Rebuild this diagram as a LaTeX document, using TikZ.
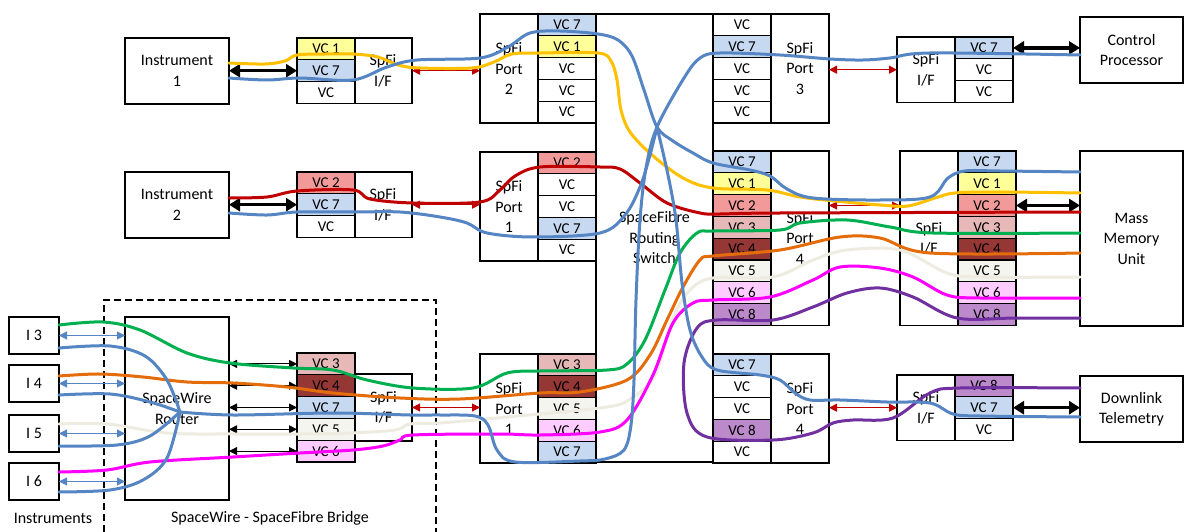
\documentclass[tikz,border=0pt]{standalone}
\usepackage{fontspec}
\setmainfont{Carlito}
\usetikzlibrary{arrows.meta}

%% colori delle celle VC
\definecolor{vcone}{HTML}{FFFF99}
\definecolor{vctwo}{HTML}{F29A9A}
\definecolor{vcthree}{HTML}{E6B9B8}
\definecolor{vcfour}{HTML}{953735}
\definecolor{vcfive}{HTML}{F5F5F0}
\definecolor{vcsix}{HTML}{FFCCFF}
\definecolor{vcseven}{HTML}{C6D9F1}
\definecolor{vceight}{HTML}{BC8ACA}
%% colori dei canali
\definecolor{cgiallo}{HTML}{FFC000}
\definecolor{cblu}{HTML}{5585C3}
\definecolor{crosso}{HTML}{C00000}
\definecolor{cverde}{HTML}{00B050}
\definecolor{carancio}{HTML}{E46C0A}
\definecolor{cbianco}{HTML}{EEECE1}
\definecolor{cmagenta}{HTML}{FF00FF}
\definecolor{cviola}{HTML}{7030A0}

\begin{document}
\begin{tikzpicture}[
	x=1pt, y=-1pt, line width=1.2pt,
	blocco/.style={draw=black, fill=white, line width=1.2pt, anchor=north west,
		inner sep=0pt, outer sep=0pt, align=center,
		font=\fontsize{16}{20.5}\selectfont},
	vc/.style={draw=black, line width=1.2pt, anchor=north west,
		inner sep=0pt, outer sep=0pt, minimum width=58pt, minimum height=\hc pt,
		font=\fontsize{15}{17}\selectfont},
	canale/.style={line width=3pt, line cap=round, line join=round,
		smooth, tension=0.55},
	largo/.style={{Triangle[length=11pt,width=13pt]}-{Triangle[length=11pt,width=13pt]},
		line width=3.5pt, black},
	sottile/.style={{Triangle[length=8pt,width=8pt]}-{Triangle[length=8pt,width=8pt]},
		line width=1pt}]

	\useasboundingbox (0,0) rectangle (1184,532);
	\def\hc{21.8}

	%% ponte SpaceWire - SpaceFibre (tratteggiato, aperto in basso)
	\draw[line width=1.2pt, dash pattern=on 7pt off 4pt]
		(104,532) -- (104,300) -- (436,300) -- (436,532);
	\node[font=\fontsize{16}{20}\selectfont] (lbins) at (53,518) {Instruments};
	\node[font=\fontsize{16}{20}\selectfont] (lbbr) at (270,518) {SpaceWire - SpaceFibre Bridge};

	%% strumenti e blocchi terminali
	\node[blocco, minimum width=104pt, minimum height=66pt] (ins1) at (125,38) {Instrument\\1};
	\node[blocco, minimum width=104pt, minimum height=66pt] (ins2) at (125,172) {Instrument\\2};
	\node[blocco, minimum width=103pt, minimum height=66pt] (cp) at (1080,17) {Control\\Processor};
	\node[blocco, minimum width=103pt, minimum height=175pt] (mmu) at (1080,151) {Mass\\Memory\\Unit};
	\node[blocco, minimum width=103pt, minimum height=66pt] (dl) at (1080,376) {Downlink\\Telemetry};
	\node[blocco, minimum width=50pt, minimum height=37pt] (i3) at (9,317) {I 3};
	\node[blocco, minimum width=50pt, minimum height=37pt] (i4) at (9,365) {I 4};
	\node[blocco, minimum width=50pt, minimum height=37pt] (i5) at (9,415) {I 5};
	\node[blocco, minimum width=50pt, minimum height=37pt] (i6) at (9,463) {I 6};
	\node[blocco, minimum width=104pt, minimum height=183pt] (swr) at (125,317) {SpaceWire\\Router};

	%% interfacce SpFi
	\node[blocco, minimum width=58pt, minimum height=65.4pt] (ifa) at (354,38) {SpFi\\I/F};
	\node[blocco, minimum width=58pt, minimum height=65.4pt] (ifb) at (354,172) {SpFi\\I/F};
	\node[blocco, minimum width=58pt, minimum height=65.4pt] (ifc) at (897,37) {SpFi\\I/F};
	\node[blocco, minimum width=58pt, minimum height=174.4pt] (ifd) at (900,151) {SpFi\\I/F};
	\node[blocco, minimum width=58pt, minimum height=65.4pt] (ife) at (897,375) {SpFi\\I/F};
	\node[blocco, minimum width=57pt, minimum height=67pt] (fbr) at (355,374) {SpFi\\I/F};

	%% switch e porte
	\node[blocco, minimum width=117pt, minimum height=448pt] (sw) at (596,14) {SpaceFibre\\Routing\\Switch};
	\node[blocco, minimum width=58pt, minimum height=109pt] (prt2) at (480,14) {SpFi\\Port\\2};
	\node[blocco, minimum width=58pt, minimum height=109pt] (prt1) at (480,152) {SpFi\\Port\\1};
	\node[blocco, minimum width=58pt, minimum height=109pt] (prt1b) at (480,354) {SpFi\\Port\\1};
	\node[blocco, minimum width=58pt, minimum height=109pt] (prt3) at (771,14) {SpFi\\Port\\3};
	\node[blocco, minimum width=58pt, minimum height=174.4pt] (prt4) at (771,151) {SpFi\\Port\\4};
	\node[blocco, minimum width=58pt, minimum height=109pt] (prt4b) at (771,354) {SpFi\\Port\\4};

	%% pile di canali virtuali
	\foreach \lab/\col [count=\i] in {VC 1/vcone,VC 7/vcseven,VC/white}
		\node[vc, fill=\col] (fa\i) at (297,{38+(\i-1)*\hc}) {\lab};
	\foreach \lab/\col [count=\i] in {VC 2/vctwo,VC 7/vcseven,VC/white}
		\node[vc, fill=\col] (fb\i) at (297,{172+(\i-1)*\hc}) {\lab};
	\foreach \lab/\col [count=\i] in {VC 3/vcthree,VC 4/vcfour,VC 7/vcseven,VC 5/vcfive,VC 6/vcsix}
		\node[vc, fill=\col] (fg\i) at (297,{353+(\i-1)*\hc}) {\lab};
	\foreach \lab/\col [count=\i] in {VC 7/vcseven,VC 1/vcone,VC/white,VC/white,VC/white}
		\node[vc, fill=\col] (pb\i) at (538,{14+(\i-1)*\hc}) {\lab};
	\foreach \lab/\col [count=\i] in {VC 2/vctwo,VC/white,VC/white,VC 7/vcseven,VC/white}
		\node[vc, fill=\col] (pa\i) at (538,{152+(\i-1)*\hc}) {\lab};
	\foreach \lab/\col [count=\i] in {VC 3/vcthree,VC 4/vcfour,VC 5/vcfive,VC 6/vcsix,VC 7/vcseven}
		\node[vc, fill=\col] (pe\i) at (538,{354+(\i-1)*\hc}) {\lab};
	\foreach \lab/\col [count=\i] in {VC/white,VC 7/vcseven,VC/white,VC/white,VC/white}
		\node[vc, fill=\col] (pc\i) at (713,{14+(\i-1)*\hc}) {\lab};
	\foreach \lab/\col [count=\i] in {VC 7/vcseven,VC 1/vcone,VC 2/vctwo,VC 3/vcthree,VC 4/vcfour,VC 5/vcfive,VC 6/vcsix,VC 8/vceight}
		\node[vc, fill=\col] (pd\i) at (713,{151+(\i-1)*\hc}) {\lab};
	\foreach \lab/\col [count=\i] in {VC 7/vcseven,VC/white,VC/white,VC 8/vceight,VC/white}
		\node[vc, fill=\col] (pf\i) at (713,{354+(\i-1)*\hc}) {\lab};
	\foreach \lab/\col [count=\i] in {VC 7/vcseven,VC/white,VC/white}
		\node[vc, fill=\col] (fc\i) at (955,{37+(\i-1)*\hc}) {\lab};
	\foreach \lab/\col [count=\i] in {VC 7/vcseven,VC 1/vcone,VC 2/vctwo,VC 3/vcthree,VC 4/vcfour,VC 5/vcfive,VC 6/vcsix,VC 8/vceight}
		\node[vc, fill=\col] (fd\i) at (958,{151+(\i-1)*\hc}) {\lab};
	\foreach \lab/\col [count=\i] in {VC 8/vceight,VC 7/vcseven,VC/white}
		\node[vc, fill=\col] (fe\i) at (955,{375+(\i-1)*\hc}) {\lab};

	%% collegamenti: frecce spesse verso i terminali
	\draw[largo] (ins1.east |- fa2.west) -- (fa2.west);
	\draw[largo] (ins2.east |- fb2.west) -- (fb2.west);
	\draw[largo] (fc1.east) -- (fc1.east -| cp.west);
	\draw[largo] (fd3.east) -- (fd3.east -| mmu.west);
	\draw[largo] (fe2.east) -- (fe2.east -| dl.west);

	%% collegamenti SpaceFibre (rossi)
	\draw[sottile, crosso] (ifa.east) -- (ifa.east -| prt2.west);
	\draw[sottile, crosso] (ifb.east) -- (ifb.east -| prt1.west);
	\draw[sottile, crosso] (fbr.east) -- (fbr.east -| prt1b.west);
	\draw[sottile, crosso] (prt3.east |- ifc.west) -- (ifc.west);
	\draw[sottile, crosso] (prt4.east |- fd3.west) -- (ifd.west |- fd3.west);
	\draw[sottile, crosso] (prt4b.east |- ife.west) -- (ife.west);

	%% collegamenti SpaceWire
	\foreach \n in {i3,i4,i5,i6}
		\draw[sottile, cblu] (\n.east) -- (\n.east -| swr.west);
	\foreach \k in {1,...,5}
		\draw[sottile] (swr.east |- fg\k.west) -- (fg\k.west);

	%% percorsi dei canali virtuali
	\coordinate (hub) at (657,127);
	\coordinate (rhub) at (180,412);

	%% VC 1: Instrument 1 -> MMU
	\draw[canale, cgiallo] plot coordinates {(ins1.east |- 0,63) (265,64) (285,61) (297,55) (325,54) (353,54) (378,57) (398,65) (420,68) (472,68) (494,62) (512,54) (540,53) (598,53) (611,61) (617,80) (621,110) (630,132) (652,155) (683,178) (713,188) (767,190) (800,197) (835,201) (880,205) (908,206) (935,198) (955,193) (1000,192) (mmu.west |- 0,193)};
	%% VC 2: Instrument 2 -> MMU
	\draw[canale, crosso] plot coordinates {(ins2.east |- 0,198) (267,197) (297,191) (353,190) (370,199) (413,203) (480,202) (500,190) (515,176) (540,167) (600,167) (620,169) (640,183) (667,203) (700,213) (720,214) (780,213) (mmu.west |- 0,212)};
	%% VC 3 .. VC 6: I 3 .. I 6 -> MMU
	\draw[canale, cverde] plot coordinates {(i3.east |- 0,325) (103,322) (140,330) (187,353) (230,363) (293,368) (333,370) (367,380) (413,388) (473,388) (507,373) (540,371) (607,370) (627,364) (645,340) (665,290) (680,253) (697,233) (713,231) (780,230) (800,223) (847,220) (890,227) (933,233) (mmu.west |- 0,233)};
	\draw[canale, carancio] plot coordinates {(i4.east |- 0,376) (100,374) (143,377) (187,382) (233,383) (287,387) (333,393) (400,398) (460,399) (540,393) (580,392) (627,380) (650,355) (667,320) (683,287) (700,260) (713,256) (780,250) (840,237) (880,238) (930,253) (mmu.west |- 0,253)};
	\draw[canale, cbianco] plot coordinates {(i5.east |- 0,424) (107,424) (167,433) (233,434) (300,434) (350,433) (395,430) (410,424) (440,423) (507,417) (607,407) (633,397) (655,375) (673,318) (690,290) (713,278) (773,277) (813,260) (847,250) (900,250) (947,273) (980,277) (mmu.west |- 0,277)};
	\draw[canale, cmagenta] plot coordinates {(i6.east |- 0,472) (107,470) (150,462) (233,457) (300,453) (353,450) (383,446) (400,440) (413,435) (500,434) (540,435) (600,432) (627,420) (653,375) (673,323) (693,303) (713,300) (770,297) (813,280) (840,267) (880,268) (913,277) (947,295) (980,298) (mmu.west |- 0,298)};
	%% VC 8: MMU -> Downlink
	\draw[canale, cviola] plot coordinates {(mmu.west |- 0,318) (1016,318) (957,318) (913,297) (880,288) (847,293) (813,307) (773,320) (717,320) (697,328) (684,363) (687,413) (707,437) (773,440) (813,433) (833,423) (853,420) (893,418) (930,393) (960,388) (dl.west |- 0,388)};

	%% VC 7: tutti i percorsi passano per (hub)
	\draw[canale, cblu] plot coordinates {(ins1.east |- 0,78) (267,80) (300,78) (353,80) (387,67) (417,60) (480,58) (508,47) (530,33) (560,31) (598,34) (618,40) (632,56) (644,90) (hub) (673,141) (693,153) (713,163) (750,170) (770,176) (787,189) (813,198) (880,200) (930,197) (948,178) (965,171) (1000,171) (mmu.west |- 0,172)};
	\draw[canale, cblu] plot coordinates {(cp.west |- 0,55) (930,53) (890,58) (863,60) (830,59) (780,55) (720,53) (700,58) (684,78) (hub) (646,168) (640,220) (636,300) (634,380) (631,425) (624,450) (605,459) (580,461) (515,462) (497,450) (488,425) (475,416) (440,415) (410,415) (333,413) (233,415) (rhub)};
	\draw[canale, cblu] plot coordinates {(ins2.east |- 0,213) (267,215) (297,212) (353,212) (400,212) (440,217) (467,223) (487,233) (533,237) (600,233) (625,215) (640,187) (650,155) (hub)};
	\draw[canale, cblu] plot coordinates {(hub) (668,175) (676,220) (682,283) (690,330) (702,357) (717,370) (760,375) (780,380) (795,393) (810,400) (840,400) (887,402) (930,403) (953,414) (980,416) (dl.west |- 0,417)};
	%% ventaglio verso gli strumenti I 3 .. I 6
	\draw[canale, cblu] plot coordinates {(rhub) (167,380) (145,356) (110,346) (i3.east |- 0,348)};
	\draw[canale, cblu] plot coordinates {(rhub) (150,402) (110,394) (i4.east |- 0,395)};
	\draw[canale, cblu] plot coordinates {(rhub) (150,436) (117,445) (i5.east |- 0,446)};
	\draw[canale, cblu] plot coordinates {(rhub) (167,458) (143,480) (110,490) (i6.east |- 0,492)};

\end{tikzpicture}
\end{document}
